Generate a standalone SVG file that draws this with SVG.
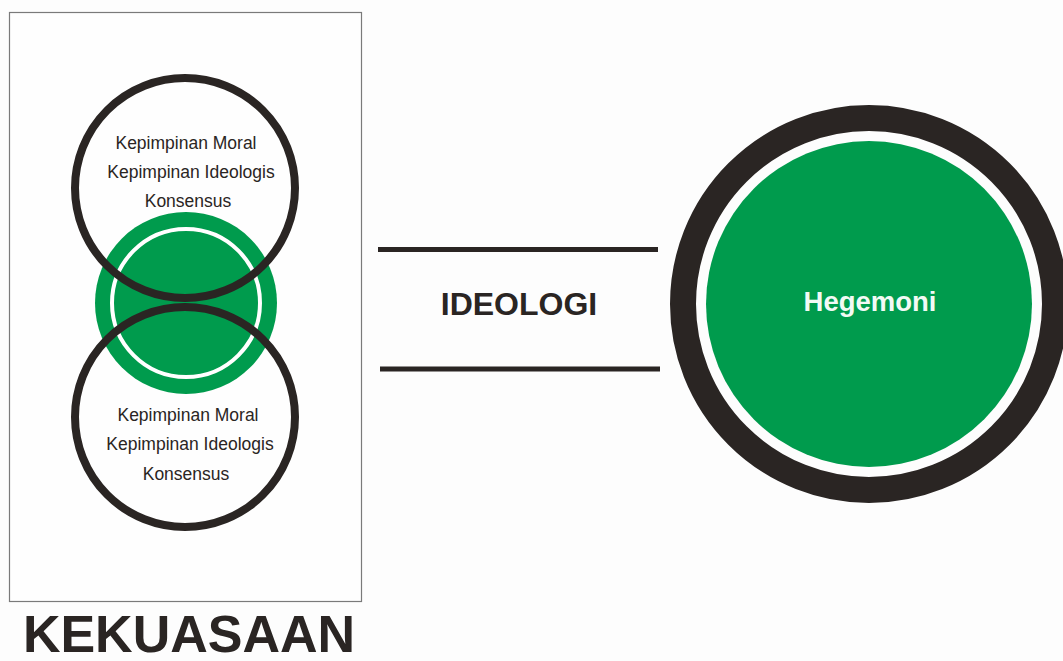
<svg xmlns="http://www.w3.org/2000/svg" width="1063" height="661" viewBox="0 0 1063 661">
  <style>
    .ring { fill: none; stroke: #2a2523; }
    .green { fill: #009b4d; }
    .label { font-family: "Liberation Sans", Arial, sans-serif; fill: #2a2523; text-anchor: middle; }
    .small { font-size: 17.5px; }
    .bold { font-weight: bold; }
    .bar { stroke: #2a2523; stroke-width: 5; }
  </style>
  <rect x="0" y="0" width="1063" height="661" fill="#fdfdfd"/>

  <!-- Left panel: power -->
  <g id="kekuasaan">
    <rect x="9.5" y="12.5" width="352" height="589" fill="#fefefe" stroke="#7a7a7a" stroke-width="1.2"/>
    <text class="label bold" x="189" y="652" font-size="52">KEKUASAAN</text>
  </g>

  <!-- Green core between the two circles -->
  <g id="inti">
    <circle class="green" cx="186" cy="303" r="91"/>
    <circle cx="186" cy="303" r="74" fill="none" stroke="#ffffff" stroke-width="4"/>
  </g>

  <g id="lingkaran-atas">
    <circle class="ring" cx="185" cy="188" r="110" stroke-width="8"/>
    <text class="label small" x="186" y="149">Kepimpinan Moral</text>
    <text class="label small" x="191" y="178">Kepimpinan Ideologis</text>
    <text class="label small" x="188" y="207">Konsensus</text>
  </g>

  <g id="lingkaran-bawah">
    <circle class="ring" cx="185" cy="417" r="110" stroke-width="8"/>
    <text class="label small" x="188" y="421">Kepimpinan Moral</text>
    <text class="label small" x="190" y="450">Kepimpinan Ideologis</text>
    <text class="label small" x="186" y="480">Konsensus</text>
  </g>

  <!-- Connector band labelled with ideology -->
  <g id="connectors">
    <line class="bar" x1="378" y1="249.5" x2="658" y2="249.5"/>
    <line class="bar" x1="380" y1="369" x2="660" y2="369"/>
  </g>
  <g id="ideologi">
    <text class="label bold" x="519" y="315" font-size="32">IDEOLOGI</text>
  </g>

  <!-- Right: hegemony -->
  <g id="hegemoni">
    <circle class="ring" cx="869" cy="304" r="186" stroke-width="26"/>
    <circle class="green" cx="869" cy="304" r="163"/>
    <text class="label bold" x="870" y="311" font-size="27.5" style="fill:#f2faf5">Hegemoni</text>
  </g>
</svg>
